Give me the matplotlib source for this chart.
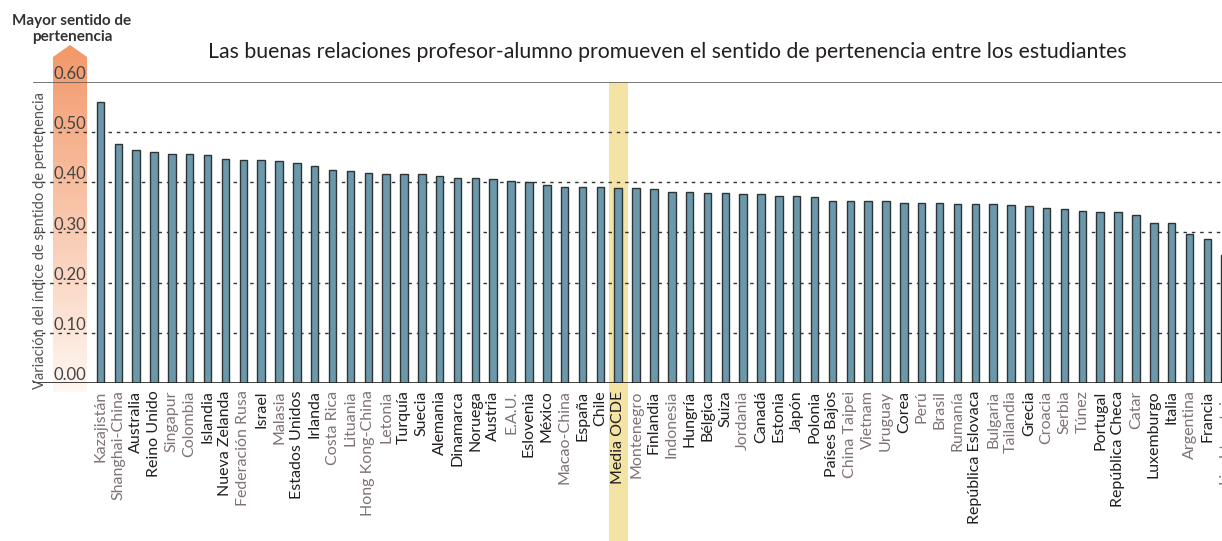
import matplotlib

matplotlib.use("Agg")
import matplotlib.pyplot as plt
import matplotlib.transforms as mtransforms
import numpy as np
from matplotlib.patches import Polygon, Rectangle

plt.rcParams["font.family"] = ["Lato", "DejaVu Sans"]

# 国名（表示順）
countries = [
    "Kazajistán", "Shanghai-China", "Australia", "Reino Unido", "Singapur",
    "Colombia", "Islandia", "Nueva Zelanda", "Federación Rusa", "Israel",
    "Malasia", "Estados Unidos", "Irlanda", "Costa Rica", "Lituania",
    "Hong Kong-China", "Letonia", "Turquía", "Suecia", "Alemania",
    "Dinamarca", "Noruega", "Austria", "E.A.U.", "Eslovenia",
    "México", "Macao-China", "España", "Chile", "Media OCDE",
    "Montenegro", "Finlandia", "Indonesia", "Hungría", "Bélgica",
    "Suiza", "Jordania", "Canadá", "Estonia", "Japón",
    "Polonia", "Países Bajos", "China Taipei", "Vietnam", "Uruguay",
    "Corea", "Perú", "Brasil", "Rumanía", "República Eslovaca",
    "Bulgaria", "Tailandia", "Grecia", "Croacia", "Serbia",
    "Túnez", "Portugal", "República Checa", "Catar", "Luxemburgo",
    "Italia", "Argentina", "Francia", "Liechtenstein",
]

# 指数の変化量
values = [
    0.560, 0.476, 0.465, 0.460, 0.457,
    0.456, 0.454, 0.446, 0.444, 0.444,
    0.442, 0.439, 0.433, 0.425, 0.423,
    0.418, 0.417, 0.417, 0.416, 0.413,
    0.408, 0.408, 0.407, 0.403, 0.401,
    0.395, 0.391, 0.391, 0.390, 0.389,
    0.388, 0.386, 0.381, 0.380, 0.378,
    0.378, 0.377, 0.376, 0.373, 0.372,
    0.371, 0.363, 0.362, 0.362, 0.362,
    0.359, 0.359, 0.358, 0.357, 0.357,
    0.356, 0.355, 0.353, 0.349, 0.347,
    0.342, 0.341, 0.340, 0.334, 0.319,
    0.318, 0.297, 0.288, 0.255,
]

# OCDE加盟国 = 黒ラベル、それ以外 = 灰色ラベル
oecd = [
    False, False, True, True, False,
    False, True, True, False, True,
    False, True, True, False, False,
    False, False, True, True, True,
    True, True, True, False, True,
    True, False, True, True, True,
    False, True, False, True, True,
    True, False, True, True, True,
    True, True, False, False, False,
    True, False, False, False, True,
    False, False, True, False, False,
    False, True, True, False, True,
    True, False, True, False,
]

yticks = [0.0, 0.1, 0.2, 0.3, 0.4, 0.5, 0.6]
highlight = "Media OCDE"

BAR_COLOR = "#6b98aa"
BAR_EDGE = "#2e3336"
GRAY_TXT = "#7f7377"
DARK_TXT = "#231f20"

fig = plt.figure(figsize=(12.22, 5.41), dpi=100)
ax = fig.add_axes([33 / 1222, 158 / 541, 1189 / 1222, 301 / 541])

x = np.arange(len(countries))
ax.set_xlim(-3.78, 62.82)
ax.set_ylim(0, 0.6)

# 目盛り線
for yv in yticks[1:-1]:
    ax.axhline(yv, color="#333333", lw=1.0, ls=(0, (2.5, 3.5)), zorder=1)
ax.axhline(0.6, color="#555555", lw=1.1, zorder=1)
ax.axhline(0.0, color="#222222", lw=1.2, zorder=4)

# Media OCDE の黄色い帯
hi = countries.index(highlight)
blend = mtransforms.blended_transform_factory(ax.transData, ax.transAxes)
ax.add_patch(Rectangle((hi - 0.53, -0.6), 1.06, 1.6, transform=blend,
                       facecolor="#f3e4a6", edgecolor="none", zorder=0,
                       clip_on=False))

ax.bar(x, values, width=0.42, color=BAR_COLOR, edgecolor=BAR_EDGE,
       linewidth=1.0, zorder=3)

# 国名ラベル（回転）
for i, name in enumerate(countries):
    ax.text(i, -0.025, name, transform=blend, rotation=90, ha="center",
            va="top", fontsize=11.5, color=DARK_TXT if oecd[i] else GRAY_TXT,
            clip_on=False, zorder=5)

for s in ax.spines.values():
    s.set_visible(False)
ax.set_xticks([])
ax.set_yticks([])

# オレンジの矢印（グラデーション）
fx = lambda px: px / 1222
fy = lambda py: 1 - py / 541
arrow = Polygon([(fx(53), fy(392)), (fx(53), fy(57)), (fx(70), fy(45)),
                 (fx(87), fy(57)), (fx(87), fy(392))], closed=True,
                transform=fig.transFigure, facecolor="none", edgecolor="none")
fig.add_artist(arrow)
top_c = np.array([243, 152, 105]) / 255
bot_c = np.array([255, 247, 242]) / 255
t = np.linspace(0, 1, 256)[:, None]
grad = (top_c * (1 - t) + bot_c * t)[:, None, :]
gax = fig.add_axes([0, 0, 1, 1], zorder=-1)
gax.set_xlim(0, 1)
gax.set_ylim(0, 1)
gax.axis("off")
im = gax.imshow(grad, extent=(fx(53), fx(87), fy(392), fy(45)), aspect="auto",
                transform=gax.transData)
im.set_clip_path(arrow)
ax.set_zorder(1)
ax.patch.set_alpha(0)

# Y軸の数値（矢印の中）
ytrans = mtransforms.blended_transform_factory(fig.transFigure, ax.transData)
for yv in yticks:
    ax.text(fx(54), yv, f"{yv:.2f}", transform=ytrans, ha="left",
            va="bottom", fontsize=12, color="#444444", zorder=6)

fig.text(fx(40), fy(240), "Variación del índice de sentido de pertenencia",
         rotation=90, ha="center", va="center", fontsize=10.5, color="#555555")
fig.text(fx(72), fy(29), "Mayor sentido de\npertenencia", ha="center",
         va="center", fontsize=11, fontweight="bold", color="#333333",
         linespacing=1.15)
fig.text(fx(667), fy(52),
         "Las buenas relaciones profesor-alumno promueven el sentido de "
         "pertenencia entre los estudiantes",
         ha="center", va="center", fontsize=15.3, color="#231f20")

fig.savefig("out.png", dpi=100)
